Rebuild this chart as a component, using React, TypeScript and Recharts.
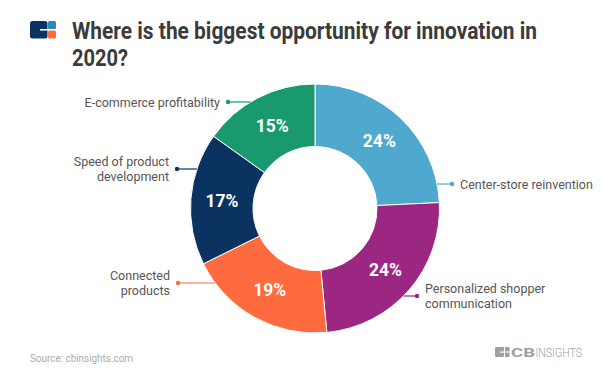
import React from "react";
import { PieChart, Pie, Cell } from "recharts";

const categories = [
  "Center-store reinvention",
  "Personalized shopper communication",
  "Connected products",
  "Speed of product development",
  "E-commerce profitability",
];
const shares = [24, 24, 19, 17, 15];
const labelLines = [
  ["Center-store reinvention"],
  ["Personalized shopper", "communication"],
  ["Connected", "products"],
  ["Speed of product", "development"],
  ["E-commerce profitability"],
];
const sliceColors = ["#4FA9CE", "#9B2783", "#FF6A3E", "#0A3362", "#18996E"];
const titleLines = ["Where is the biggest opportunity for innovation in", "2020?"];
const sourceText = "Source: cbinsights.com";

// callout layout (offsets from pie centre)
const calloutDy = [-24.5, 87.5, 74.5, -39.5, -106.5];
const calloutDotDx = [137, 102, -137, -138, -87];

const data = categories.map((name, i) => ({ name, value: shares[i] }));

const FONT = "Roboto, 'Noto Sans', sans-serif";
const RAD = Math.PI / 180;

function renderLabel(props: any) {
  const { cx, cy, midAngle, innerRadius, outerRadius, index, value } = props;
  const rMid = (innerRadius + outerRadius) / 2;
  const px = cx + rMid * Math.cos(-midAngle * RAD);
  const py = cy + rMid * Math.sin(-midAngle * RAD);
  const dy = calloutDy[index];
  const side = calloutDotDx[index] > 0 ? 1 : -1;
  const dotX = cx + calloutDotDx[index];
  const y = cy + dy;
  const edgeX = cx + side * Math.sqrt(Math.max(outerRadius * outerRadius - dy * dy, 0));
  const lines = labelLines[index];
  const lh = 15.5;
  const y0 = y - ((lines.length - 1) * lh) / 2;
  const color = sliceColors[index];
  return (
    <g>
      <text
        x={px}
        y={py}
        textAnchor="middle"
        dominantBaseline="central"
        fill="#ffffff"
        fontSize={17.5}
        fontWeight={700}
        fontFamily={FONT}
      >
        {value}%
      </text>
      <line x1={edgeX} y1={y} x2={dotX} y2={y} stroke={color} strokeWidth={1.2} />
      <circle cx={dotX} cy={y} r={2.2} fill={color} />
      <text
        x={dotX + side * 8}
        y={y0}
        textAnchor={side > 0 ? "start" : "end"}
        fill="#555555"
        fontSize={12.5}
        fontFamily={FONT}
      >
        {lines.map((l, k) => (
          <tspan key={k} x={dotX + side * 8} y={y0 + k * lh} dominantBaseline="central">
            {l}
          </tspan>
        ))}
      </text>
    </g>
  );
}

export default function App() {
  return (
    <div
      style={{
        position: "absolute",
        left: 0,
        top: 0,
        width: 604,
        height: 386,
        background: "#ffffff",
        overflow: "hidden",
      }}
    >
      <PieChart width={604} height={386} margin={{ top: 0, right: 0, bottom: 0, left: 0 }}>
        <Pie
          data={data}
          dataKey="value"
          nameKey="name"
          cx={315}
          cy={208.5}
          innerRadius={62}
          outerRadius={124.5}
          startAngle={90}
          endAngle={-270}
          stroke="#ffffff"
          strokeWidth={1}
          label={renderLabel}
          labelLine={false}
          isAnimationActive={false}
        >
          {data.map((d, i) => (
            <Cell key={d.name} fill={sliceColors[i]} />
          ))}
        </Pie>
      </PieChart>
      <svg
        width={604}
        height={386}
        style={{ position: "absolute", left: 0, top: 0, pointerEvents: "none" }}
      >
        {/* logo */}
        <rect x={30} y={21} width={17.5} height={17.5} rx={2.5} fill="#0A3362" />
        <rect x={40} y={29} width={8} height={1.6} fill="#ffffff" />
        <rect x={48} y={21} width={8} height={8} rx={1.5} fill="#2E86B8" />
        <rect x={48} y={30.5} width={8} height={8} rx={1.5} fill="#FF6A3E" />
        <text
          x={72}
          y={38.5}
          fontSize={23}
          fontWeight={700}
          fontFamily={FONT}
          fill="#3b3b3b"
          textLength={465}
          lengthAdjust="spacingAndGlyphs"
        >
          {titleLines[0]}
        </text>
        <text
          x={72}
          y={65.5}
          fontSize={23}
          fontWeight={700}
          fontFamily={FONT}
          fill="#3b3b3b"
          textLength={56}
          lengthAdjust="spacingAndGlyphs"
        >
          {titleLines[1]}
        </text>
        {/* footer */}
        <text
          x={30}
          y={361.5}
          fontSize={11}
          fontFamily={FONT}
          fill="#ababab"
          textLength={103}
          lengthAdjust="spacingAndGlyphs"
        >
          {sourceText}
        </text>
        <rect x={495} y={347} width={9} height={10} rx={1} fill="#a0a0a0" />
        <rect x={500} y={351.5} width={4.5} height={1.2} fill="#ffffff" />
        <rect x={505} y={347} width={4.5} height={4.5} fill="#a0a0a0" />
        <rect x={505} y={352.5} width={4.5} height={4.5} fill="#a0a0a0" />
        <text
          x={511}
          y={357}
          fontSize={13.5}
          fontWeight={700}
          fontFamily={FONT}
          fill="#a0a0a0"
          textLength={24}
          lengthAdjust="spacingAndGlyphs"
        >
          CB
        </text>
        <text
          x={535.5}
          y={357}
          fontSize={13.5}
          fontWeight={300}
          fontFamily={FONT}
          fill="#a0a0a0"
          textLength={46.5}
          lengthAdjust="spacingAndGlyphs"
        >
          INSIGHTS
        </text>
      </svg>
    </div>
  );
}
